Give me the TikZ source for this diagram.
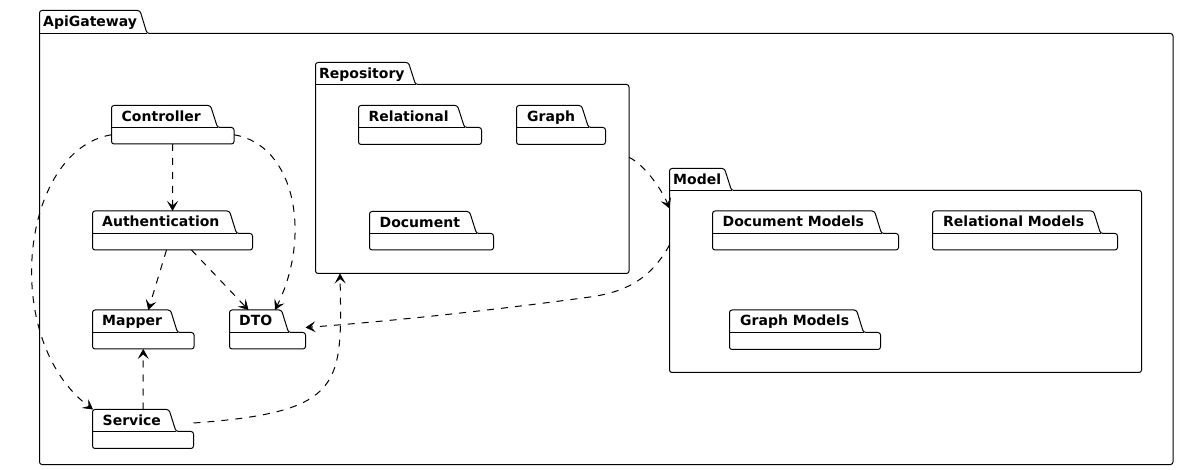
\documentclass[tikz,border=0pt]{standalone}
\usepackage{fontspec}
\setmainfont{DejaVu Sans}
\usetikzlibrary{arrows.meta,calc}
\tikzset{
  pkgline/.style={draw=black,line width=1pt,rounded corners=2.5pt},
  pkgsep/.style={draw=black,line width=1pt},
  pkglabel/.style={anchor=base west,inner sep=0pt,font=\bfseries\fontsize{14}{16}\selectfont},
  pkgnode/.style={draw=none,inner sep=0pt,outer sep=0pt,rectangle},
  dep/.style={draw=black,line width=1pt,dash pattern=on 7pt off 7pt,
    -{Stealth[length=10pt,width=11pt,inset=4.5pt,line width=0.6pt]}},
}
% name, left, top, tabright, tabbottom, right, bottom, label, text offset
\newcommand\pkgdraw[9]{%
  \draw[pkgline] (#2,#7) -- (#2,#3) -- ({#4-7},#3) -- (#4,#5) -- (#6,#5) -- (#6,#7) -- cycle;
  \draw[pkgsep] (#2,#5) -- (#4,#5);
  \node[pkglabel] (#1-lbl) at ({#2+#9},{#3+16}) {#8};
  \node[pkgnode,minimum width={(#6-#2)*1pt},minimum height={(#7-#3)*1pt}] (#1) at ({(#2+#6)/2},{(#3+#7)/2}) {};
}
\begin{document}
\begin{tikzpicture}[x=1pt,y=-1pt]
\useasboundingbox[fill=white] (0,0) rectangle (1179,470);
\pkgdraw{api}{39.5}{10.5}{147}{33.5}{1173}{464.5}{ApiGateway}{3.5}
\pkgdraw{repo}{315.5}{62.5}{415.5}{84.5}{629}{273.5}{Repository}{3.5}
\pkgdraw{model}{669.5}{168.5}{731.5}{190.5}{1141.5}{372.5}{Model}{3.5}
\pkgdraw{ctrl}{111.5}{105.5}{217.5}{127.5}{234}{144}{Controller}{10}
\pkgdraw{auth}{92.5}{211}{236.5}{233.5}{252.5}{250}{Authentication}{9.5}
\pkgdraw{mapper}{92.5}{310}{177.5}{332.5}{194}{349}{Mapper}{9.5}
\pkgdraw{dto}{229.5}{310}{288.5}{332.5}{305.5}{349}{DTO}{9.5}
\pkgdraw{service}{92.5}{409.5}{176}{431.5}{193.5}{448.5}{Service}{10}
\pkgdraw{rel}{358.5}{105.5}{464.5}{127.5}{481.5}{144.5}{Relational}{10}
\pkgdraw{graph}{516.5}{105.5}{588.5}{127.5}{605.5}{144.5}{Graph}{10.5}
\pkgdraw{doc}{369.5}{211.5}{476.5}{233.5}{493.5}{250}{Document}{10}
\pkgdraw{docm}{712.5}{211}{881.5}{233.5}{898.5}{250}{Document Models}{10}
\pkgdraw{relm}{932.5}{211}{1100.5}{233.5}{1117.5}{250}{Relational Models}{10.5}
\pkgdraw{graphm}{729.5}{310}{863.5}{332.5}{880.5}{349.5}{Graph Models}{10.5}

% connectors
\draw[dep] (ctrl.south) -- (auth.north);
\draw[dep] ([yshift=-10pt]ctrl.east) .. controls (295,145) and (312,235) .. ([xshift=7.5pt]dto.north);
\draw[dep] ([yshift=-10pt]ctrl.west) .. controls (20,150) and (0,340) .. ([xshift=-50pt]service.north);
\draw[dep] ([xshift=-6pt]auth.south) -- ([xshift=5pt]mapper.north);
\draw[dep] ([xshift=19pt]auth.south) -- ([xshift=-19pt]dto.north);
\draw[dep] (service.north) -- (mapper.south);
\draw[dep] ([yshift=6pt]service.east) .. controls (345,412) and (342,385) .. ([xshift=24.5pt]repo.south west);
\draw[dep] ([yshift=25.5pt]model.west) .. controls (650,280) and (625,292) .. (590,297)
  .. controls (480,312) and (380,322) .. ([yshift=2pt]dto.east);
\draw[dep] ([yshift=10.7pt]repo.east) .. controls (645,165) and (662,190) .. ([yshift=62pt]model.west);
\end{tikzpicture}
\end{document}
